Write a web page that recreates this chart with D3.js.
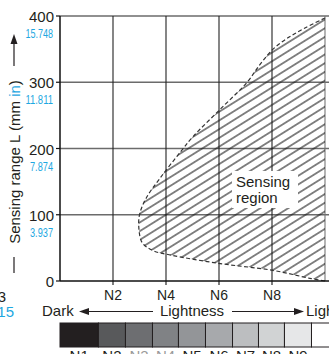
<!DOCTYPE html>
<html><head><meta charset="utf-8">
<script src="https://cdn.jsdelivr.net/npm/d3@7"></script>
<style>
html,body{margin:0;padding:0;background:#fff;overflow:hidden;}
svg{display:block;font-family:"Liberation Sans",Arial,Helvetica,sans-serif;}
</style></head><body>
<svg id="c" width="329" height="354"></svg>
<script>
// ---- data ----
const yTicks = [0, 100, 200, 300, 400];
const yTicksInch = ["", "3.937", "7.874", "11.811", "15.748"];
const xTicks = [2, 4, 6, 8];
const xTickLabels = ["N2", "N4", "N6", "N8"];
const regionN = [10, 9.2, 8.6, 8.04, 7.55, 7.06, 6.04, 5.02, 4.55, 3.77, 3.25, 3.0, 2.98, 3.1, 3.5, 4.2, 5.92, 8.04, 9.43, 10];
const regionL = [397, 381, 367, 350, 327, 300, 259, 218, 195, 155, 125, 100, 78, 58, 46, 39, 27, 16, 4, 0];
const grayLabels = ["N1", "N2", "N3", "N4", "N5", "N6", "N7", "N8", "N9", ""];
const grayColors = ["#231f20", "#58595b", "#6d6e71", "#808285", "#939598", "#a7a9ac", "#bcbec0", "#d1d3d4", "#e6e7e8", "#ffffff"];
const grayEdges = [0, 1.45, 2.47, 3.49, 4.47, 5.49, 6.51, 7.49, 8.47, 9.49, 10.2];

const svg = d3.select("#c");
const x = d3.scaleLinear().domain([0, 10]).range([60, 325]);
const y = d3.scaleLinear().domain([0, 400]).range([281, 16]);
const blue = "#1ea7e1";

const defs = svg.append("defs");
const pat = defs.append("pattern").attr("id", "hatch")
  .attr("patternUnits", "userSpaceOnUse").attr("width", 20).attr("height", 7.4)
  .attr("patternTransform", "rotate(-32)");
pat.append("line").attr("x1", 0).attr("x2", 20).attr("y1", 3.7).attr("y2", 3.7)
  .attr("stroke", "#1a1a1a").attr("stroke-width", 1.05);

// gridlines
svg.append("g").selectAll("line").data(yTicks.slice(1)).join("line")
  .attr("x1", x(0)).attr("x2", 329).attr("y1", d => y(d)).attr("y2", d => y(d))
  .attr("stroke", "#6b6b6b").attr("stroke-width", 1.3);
svg.append("g").selectAll("line").data([2, 4, 6, 8, 10]).join("line")
  .attr("x1", d => x(d)).attr("x2", d => x(d)).attr("y1", y(400)).attr("y2", y(0))
  .attr("stroke", d => d === 10 ? "#777" : "#222").attr("stroke-width", 1.1);

// region
const pts = regionN.map((n, i) => [x(n), y(regionL[i])]);
const line = d3.line().curve(d3.curveCatmullRom.alpha(0.5));
svg.append("path").attr("d", line(pts) + "Z").attr("fill", "url(#hatch)").attr("stroke", "none");
svg.append("path").attr("d", line(pts)).attr("fill", "none")
  .attr("stroke", "#333").attr("stroke-width", 1.2).attr("stroke-dasharray", "4,2.5");

// label box
svg.append("rect").attr("x", 232).attr("y", 171).attr("width", 66).attr("height", 37).attr("fill", "#fff");
const lab = svg.append("text").attr("x", 236).attr("font-size", 15).attr("fill", "#231f20");
lab.append("tspan").attr("x", 236).attr("y", 187).text("Sensing");
lab.append("tspan").attr("x", 236).attr("y", 203).text("region");

// axes
svg.append("line").attr("x1", x(0)).attr("x2", x(0)).attr("y1", y(400)).attr("y2", y(0)).attr("stroke", "#111").attr("stroke-width", 1.5);
svg.append("line").attr("x1", x(0)).attr("x2", 329).attr("y1", y(0)).attr("y2", y(0)).attr("stroke", "#111").attr("stroke-width", 1.5);
// y ticks
svg.append("g").selectAll("line").data(yTicks).join("line")
  .attr("x1", 56).attr("x2", x(0)).attr("y1", d => y(d)).attr("y2", d => y(d))
  .attr("stroke", "#111").attr("stroke-width", 1.2);
svg.append("g").selectAll("text").data(yTicks).join("text")
  .attr("x", 54).attr("y", d => y(d) + 6).attr("text-anchor", "end")
  .attr("font-size", 15).attr("fill", "#231f20").text(d => d);
svg.append("g").selectAll("text").data(yTicks.filter((d, i) => yTicksInch[i])).join("text")
  .attr("x", 53).attr("y", d => y(d) + 22).attr("text-anchor", "end")
  .attr("font-size", 13.5).attr("fill", blue)
  .attr("textLength", (d) => yTicksInch[yTicks.indexOf(d)].length * 4.6)
  .attr("lengthAdjust", "spacingAndGlyphs")
  .text(d => yTicksInch[yTicks.indexOf(d)]);
// x ticks
svg.append("g").selectAll("line").data(xTicks).join("line")
  .attr("x1", d => x(d)).attr("x2", d => x(d)).attr("y1", y(0)).attr("y2", y(0) + 4)
  .attr("stroke", "#111").attr("stroke-width", 1.1);
svg.append("g").selectAll("text").data(xTicks).join("text")
  .attr("x", d => x(d)).attr("y", 300).attr("text-anchor", "middle")
  .attr("font-size", 14).attr("fill", "#231f20").text((d, i) => xTickLabels[i]);

// y-axis title
const yt = svg.append("text").attr("transform", "translate(20,162) rotate(-90)")
  .attr("text-anchor", "middle").attr("font-size", 15).attr("fill", "#231f20");
yt.append("tspan").text("Sensing range L (mm ");
yt.append("tspan").attr("fill", blue).text("in");
yt.append("tspan").text(")");
svg.append("line").attr("x1", 14).attr("x2", 14).attr("y1", 257).attr("y2", 273).attr("stroke", "#231f20").attr("stroke-width", 1.2);
svg.append("line").attr("x1", 14).attr("x2", 14).attr("y1", 42).attr("y2", 66).attr("stroke", "#231f20").attr("stroke-width", 1.2);
svg.append("path").attr("d", "M14,34 L10.5,44 L17.5,44 Z").attr("fill", "#231f20");

// cut-off left labels
svg.append("text").attr("x", 6).attr("y", 302).attr("text-anchor", "end").attr("font-size", 15).attr("fill", "#231f20").text("3");
svg.append("text").attr("x", 14).attr("y", 317).attr("text-anchor", "end").attr("font-size", 15).attr("fill", blue).text("15");

// lightness axis
svg.append("text").attr("x", 42).attr("y", 316).attr("font-size", 15).attr("fill", "#231f20").text("Dark");
svg.append("text").attr("x", 192).attr("y", 316).attr("text-anchor", "middle").attr("font-size", 15).attr("fill", "#231f20").text("Lightness");
svg.append("text").attr("x", 306).attr("y", 316).attr("font-size", 15).attr("fill", "#231f20").text("Light");
svg.append("line").attr("x1", 86).attr("x2", 153).attr("y1", 311.5).attr("y2", 311.5).attr("stroke", "#231f20").attr("stroke-width", 1.2);
svg.append("path").attr("d", "M79,311.5 L89,308 L89,315 Z").attr("fill", "#231f20");
svg.append("line").attr("x1", 232).attr("x2", 296).attr("y1", 311.5).attr("y2", 311.5).attr("stroke", "#231f20").attr("stroke-width", 1.2);
svg.append("path").attr("d", "M304,311.5 L294,308 L294,315 Z").attr("fill", "#231f20");

// grayscale bar
const gx = d3.scaleLinear().domain([0, 10]).range([60, 325]);
svg.append("g").selectAll("rect").data(grayColors).join("rect")
  .attr("x", (d, i) => gx(grayEdges[i])).attr("width", (d, i) => gx(grayEdges[i + 1]) - gx(grayEdges[i]))
  .attr("y", 323).attr("height", 24).attr("fill", d => d)
  .attr("stroke", "#231f20").attr("stroke-width", 1);
svg.append("g").selectAll("text").data(grayLabels).join("text")
  .attr("x", (d, i) => (gx(grayEdges[i]) + gx(grayEdges[i + 1])) / 2).attr("y", 361)
  .attr("text-anchor", "middle").attr("font-size", 15)
  .attr("fill", (d, i) => (i === 2 || i === 3) ? "#9a9a9a" : "#231f20").text(d => d);
</script></body></html>
